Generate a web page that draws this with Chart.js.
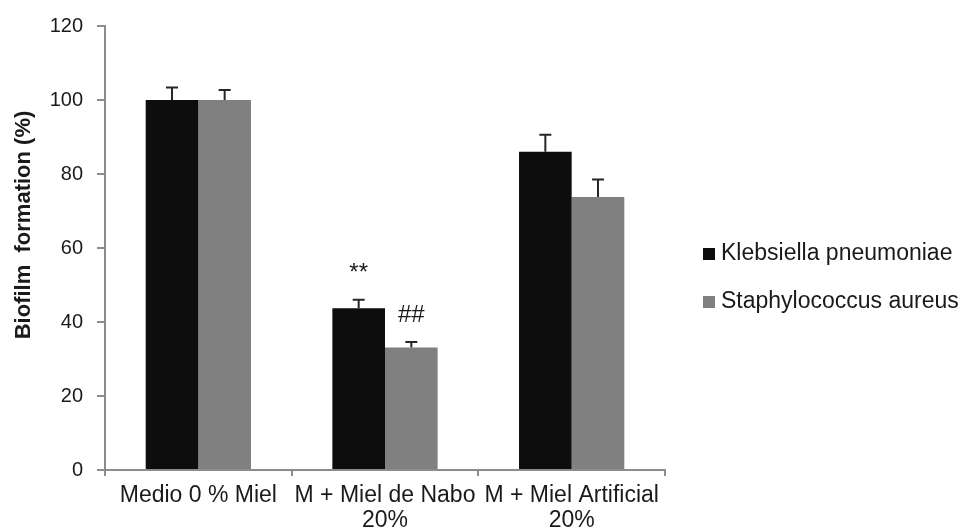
<!DOCTYPE html>
<html>
<head>
<meta charset="utf-8">
<script src="https://cdn.jsdelivr.net/npm/chart.js@4/dist/chart.umd.min.js"></script>
<style>
  html, body { margin: 0; padding: 0; background: #fff; }
  #wrap { width: 968px; height: 530px; position: relative; }
</style>
</head>
<body>
<div id="wrap"><canvas id="chart"></canvas></div>
<script>
/* global document, Chart */

// Data
const categories = [["Medio 0 % Miel"], ["M + Miel de Nabo", "20%"], ["M + Miel Artificial", "20%"]];
const seriesNames = ["Klebsiella pneumoniae", "Staphylococcus aureus"];
const klebsiella = [100, 43.7, 86];
const klebsiellaErr = [3.4, 2.3, 4.6];
const staph = [100, 33.1, 73.8];
const staphErr = [2.7, 1.5, 4.7];
const klebsiellaMarks = ["", "**", ""];
const staphMarks = ["", "##", ""];
const yTicks = [0, 20, 40, 60, 80, 100, 120];
const yTitle = "Biofilm  formation (%)";

// Colors
const black = "#0d0d0d";
const gray = "#808080";
const axisGray = "#8c8c8c";
const textColor = "#1a1a1a";
const font = "'Liberation Sans', Arial, sans-serif";

const errors = [klebsiellaErr, staphErr];
const marks = [klebsiellaMarks, staphMarks];

// Error bars (upper half only) and significance marks
const errorBars = {
  id: "errorBars",
  afterDatasetsDraw(chart) {
    const c = chart.ctx;
    const y = chart.scales.y;
    c.save();
    chart.data.datasets.forEach((ds, i) => {
      chart.getDatasetMeta(i).data.forEach((bar, j) => {
        const top = y.getPixelForValue(ds.data[j] + errors[i][j]);
        c.strokeStyle = "#262626";
        c.lineWidth = 2;
        c.beginPath();
        c.moveTo(bar.x, bar.y);
        c.lineTo(bar.x, top);
        c.moveTo(bar.x - 6, top);
        c.lineTo(bar.x + 6, top);
        c.stroke();
        if (marks[i][j]) {
          c.fillStyle = textColor;
          c.font = "24px " + font;
          c.textAlign = "center";
          c.textBaseline = "alphabetic";
          c.fillText(marks[i][j], bar.x, top - 20);
        }
      });
    });
    c.restore();
  }
};

// Y title and legend on the right
const decorations = {
  id: "decorations",
  afterDraw(chart) {
    const c = chart.ctx;
    c.save();
    c.fillStyle = textColor;
    c.font = "bold 22px " + font;
    c.translate(24, 225);
    c.rotate(-Math.PI / 2);
    c.textAlign = "center";
    c.textBaseline = "middle";
    c.fillText(yTitle, 0, 0);
    c.restore();

    c.save();
    c.font = "23px " + font;
    c.textBaseline = "middle";
    c.textAlign = "left";
    chart.data.datasets.forEach((ds, i) => {
      const cy = 254 + i * 48;
      c.fillStyle = ds.backgroundColor;
      c.fillRect(703, cy - 6, 12, 12);
      c.fillStyle = textColor;
      c.fillText(seriesNames[i], 721, cy);
    });
    c.restore();
  }
};

new Chart(document.getElementById("chart"), {
  type: "bar",
  data: {
    labels: categories,
    datasets: [
      { label: seriesNames[0], data: klebsiella, backgroundColor: black },
      { label: seriesNames[1], data: staph, backgroundColor: gray }
    ]
  },
  options: {
    responsive: true,
    maintainAspectRatio: false,
    animation: false,
    layout: { padding: { left: 49, right: 303, top: 24, bottom: 0 } },
    datasets: {
      bar: { categoryPercentage: 0.564, barPercentage: 1, borderWidth: 0 }
    },
    plugins: {
      legend: { display: false },
      tooltip: { enabled: false }
    },
    scales: {
      x: {
        afterFit: s => { s.height = 60; },
        grid: {
          offset: true,
          drawOnChartArea: false,
          drawTicks: true,
          tickLength: 6,
          color: axisGray,
          lineWidth: 2
        },
        border: { color: axisGray, width: 2 },
        ticks: {
          color: textColor,
          font: { family: font, size: 23, lineHeight: 1.05 },
          padding: 8,
          maxRotation: 0,
          minRotation: 0,
          autoSkip: false
        }
      },
      y: {
        min: 0,
        max: 120,
        afterFit: s => { s.width = 56; },
        afterBuildTicks: s => { s.ticks = yTicks.map(v => ({ value: v })); },
        grid: {
          drawOnChartArea: false,
          drawTicks: true,
          tickLength: 8,
          color: axisGray,
          lineWidth: 2
        },
        border: { color: axisGray, width: 2 },
        ticks: {
          color: textColor,
          font: { family: font, size: 20 },
          padding: 14
        }
      }
    }
  },
  plugins: [errorBars, decorations]
});
</script>
</body>
</html>
